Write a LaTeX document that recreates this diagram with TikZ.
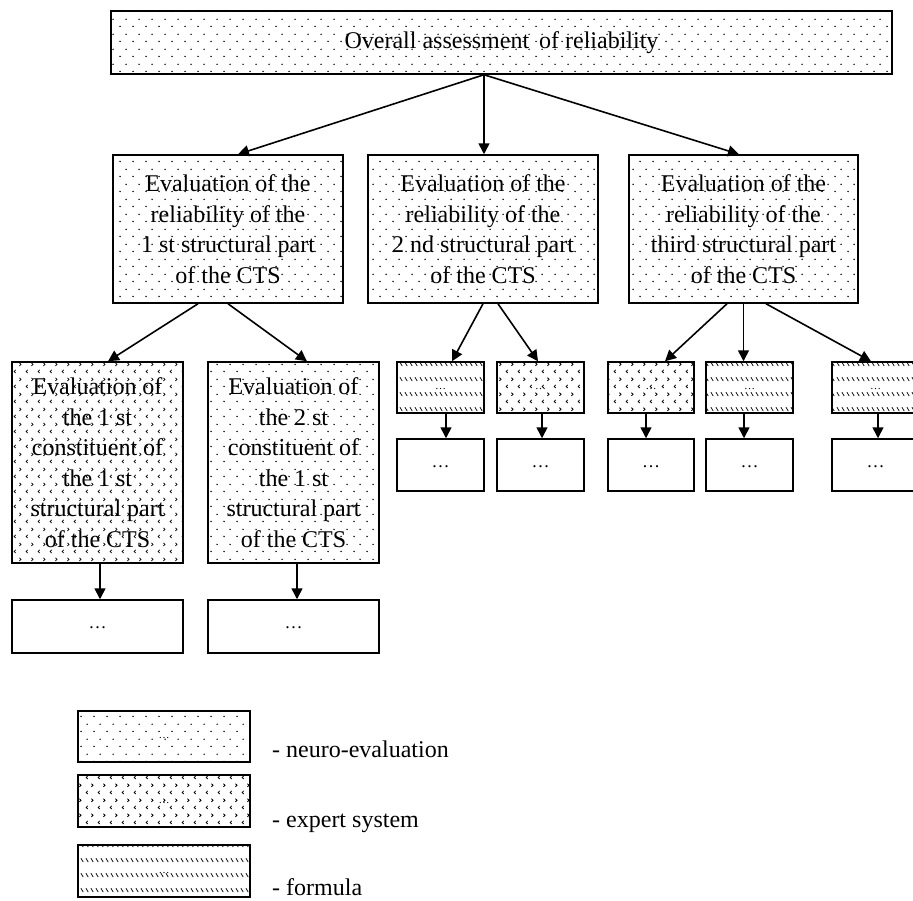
\documentclass[tikz,border=0pt]{standalone}
\usepackage{fontspec}
\setmainfont{Liberation Serif}
\usetikzlibrary{patterns.meta,arrows.meta,calc}

\tikzdeclarepattern{
  name=neuro, type=uncolored,
  bottom left={(0pt,0pt)}, top right={(13pt,15pt)}, tile size={(13pt,15pt)},
  code={
    \fill (3.25pt,3.75pt) circle (0.85pt);
    \fill (9.75pt,11.25pt) circle (0.85pt);
  }
}
\tikzdeclarepattern{
  name=expert, type=uncolored,
  bottom left={(0pt,0pt)}, top right={(12pt,15pt)}, tile size={(12pt,15pt)},
  code={
    \draw[line width=0.85pt] (4pt,5.4pt)--(2.3pt,3.75pt)--(4pt,2.1pt);
    \draw[line width=0.85pt] (8pt,12.9pt)--(9.7pt,11.25pt)--(8pt,9.6pt);
  }
}
\tikzdeclarepattern{
  name=formula, type=uncolored,
  bottom left={(0pt,0pt)}, top right={(4.7pt,15pt)}, tile size={(4.7pt,15pt)},
  code={
    \draw[line width=0.8pt] (1pt,13.4pt)--(3.4pt,9.4pt);
  }
}

\tikzset{
  box/.style={draw, line width=1.5pt, inner sep=0pt, align=center,
    font=\fontsize{24}{30.5}\selectfont},
  neurobox/.style={box, pattern=neuro},
  expertbox/.style={box, pattern=expert},
  formulabox/.style={box, pattern=formula},
  dotbox/.style={box, font=\fontsize{18}{18}\selectfont},
  tinytext/.style={font=\fontsize{11}{11}\selectfont},
  arr/.style={line width=1.6pt, -{Triangle[length=11pt,width=11pt]}},
  legendtext/.style={anchor=base west, inner sep=0pt, font=\fontsize{24}{30}\selectfont},
}

\begin{document}
\begin{tikzpicture}[x=1pt,y=-1pt]
\useasboundingbox (0,0) rectangle (913,900);

% top
\node[neurobox, minimum width=781pt, minimum height=63pt] (top) at (501.5,42.5) {Overall assessment \,of reliability};

% middle boxes
\node[neurobox, minimum width=230pt, minimum height=148pt] (m1) at (228,229)
  {Evaluation of the\\reliability of the\\1 st structural part\\of the CTS};
\node[neurobox, minimum width=230pt, minimum height=148pt] (m2) at (483,229)
  {Evaluation of the\\reliability of the\\2 nd structural part\\of the CTS};
\node[neurobox, minimum width=229pt, minimum height=148pt] (m3) at (743.5,229)
  {Evaluation of the\\reliability of the\\third structural part\\of the CTS};

\coordinate (ts) at ([xshift=-17.5pt]top.south);
\draw[arr] (ts) -- ([xshift=10pt]m1.north);
\draw[arr] (ts) -- (ts |- m2.north);
\draw[arr] (ts) -- ([xshift=-4.5pt]m3.north);

% lower-left boxes
\node[expertbox, minimum width=171pt, minimum height=201pt] (l1) at (97.5,462.5)
  {Evaluation of\\the 1 st\\constituent of\\the 1 st\\structural part\\of the CTS};
\node[neurobox, minimum width=171pt, minimum height=201pt] (l2) at (293.5,462.5)
  {Evaluation of\\the 2 st\\constituent of\\the 1 st\\structural part\\of the CTS};
\node[dotbox, minimum width=171pt, minimum height=53pt] (d1) at (97.5,626.5) {\raisebox{-5pt}{\ldots}};
\node[dotbox, minimum width=171pt, minimum height=53pt] (d2) at (293.5,626.5) {\raisebox{-5pt}{\ldots}};

\draw[arr] ([xshift=-30pt]m1.south) -- ([xshift=10.5pt]l1.north);
\draw[arr] (m1.south) -- ([xshift=13.5pt]l2.north);
\draw[arr] ([xshift=2.5pt]l1.south) -- ([xshift=2.5pt]d1.north);
\draw[arr] ([xshift=3.5pt]l2.south) -- ([xshift=3.5pt]d2.north);

% small boxes
\node[formulabox, tinytext, minimum width=87pt, minimum height=51pt] (a) at (440.5,387.5) {\raisebox{-5pt}{\ldots}};
\node[expertbox, tinytext, minimum width=87pt, minimum height=51pt] (b) at (540.5,387.5) {\raisebox{-5pt}{\ldots}};
\node[expertbox, tinytext, minimum width=86pt, minimum height=51pt] (c) at (651,387.5) {\raisebox{-5pt}{\ldots}};
\node[formulabox, tinytext, minimum width=87pt, minimum height=51pt] (d) at (749.5,387.5) {\raisebox{-5pt}{\ldots}};
\node[formulabox, tinytext, minimum width=87pt, minimum height=51pt] (e) at (875.5,387.5) {\raisebox{-5pt}{\ldots}};

\node[dotbox, minimum width=87pt, minimum height=52pt] (da) at (440.5,465) {\raisebox{-5pt}{\ldots}};
\node[dotbox, minimum width=87pt, minimum height=52pt] (db) at (540.5,465) {\raisebox{-5pt}{\ldots}};
\node[dotbox, minimum width=86pt, minimum height=52pt] (dc) at (651,465) {\raisebox{-5pt}{\ldots}};
\node[dotbox, minimum width=87pt, minimum height=52pt] (dd) at (749.5,465) {\raisebox{-5pt}{\ldots}};
\node[dotbox, minimum width=87pt, minimum height=52pt] (de) at (875.5,465) {\raisebox{-5pt}{\ldots}};

\draw[arr] (m2.south) -- ([xshift=11.5pt]a.north);
\draw[arr] ([xshift=15pt]m2.south) -- ([xshift=-2.5pt]b.north);
\draw[arr] ([xshift=-16.5pt]m3.south) -- ([xshift=14pt]c.north);
\draw[arr] (m3.south) -- (m3.south |- d.north);
\draw[arr] ([xshift=22.5pt]m3.south) -- ([xshift=-4.5pt]e.north);

\draw[arr] ([xshift=5.5pt]a.south) -- ([xshift=5.5pt]da.north);
\draw[arr] ([xshift=1.5pt]b.south) -- ([xshift=1.5pt]db.north);
\draw[arr] ([xshift=-5pt]c.south) -- ([xshift=-5pt]dc.north);
\draw[arr] ([xshift=-5.5pt]d.south) -- ([xshift=-5.5pt]dd.north);
\draw[arr] ([xshift=2.5pt]e.south) -- ([xshift=2.5pt]de.north);

% legend
\node[neurobox, tinytext, minimum width=172pt, minimum height=51pt] (L1) at (164,736.5) {\raisebox{-5pt}{\ldots}};
\node[expertbox, tinytext, minimum width=172pt, minimum height=52pt] (L2) at (164,801) {\raisebox{-5pt}{\ldots}};
\node[formulabox, tinytext, minimum width=172pt, minimum height=52pt] (L3) at (164,871) {\raisebox{-5pt}{\ldots}};

\node[legendtext] (t1) at (272,757) {- neuro-evaluation};
\node[legendtext] (t2) at (272,827) {- expert system};
\node[legendtext] (t3) at (272,895) {- formula};
\end{tikzpicture}
\end{document}
